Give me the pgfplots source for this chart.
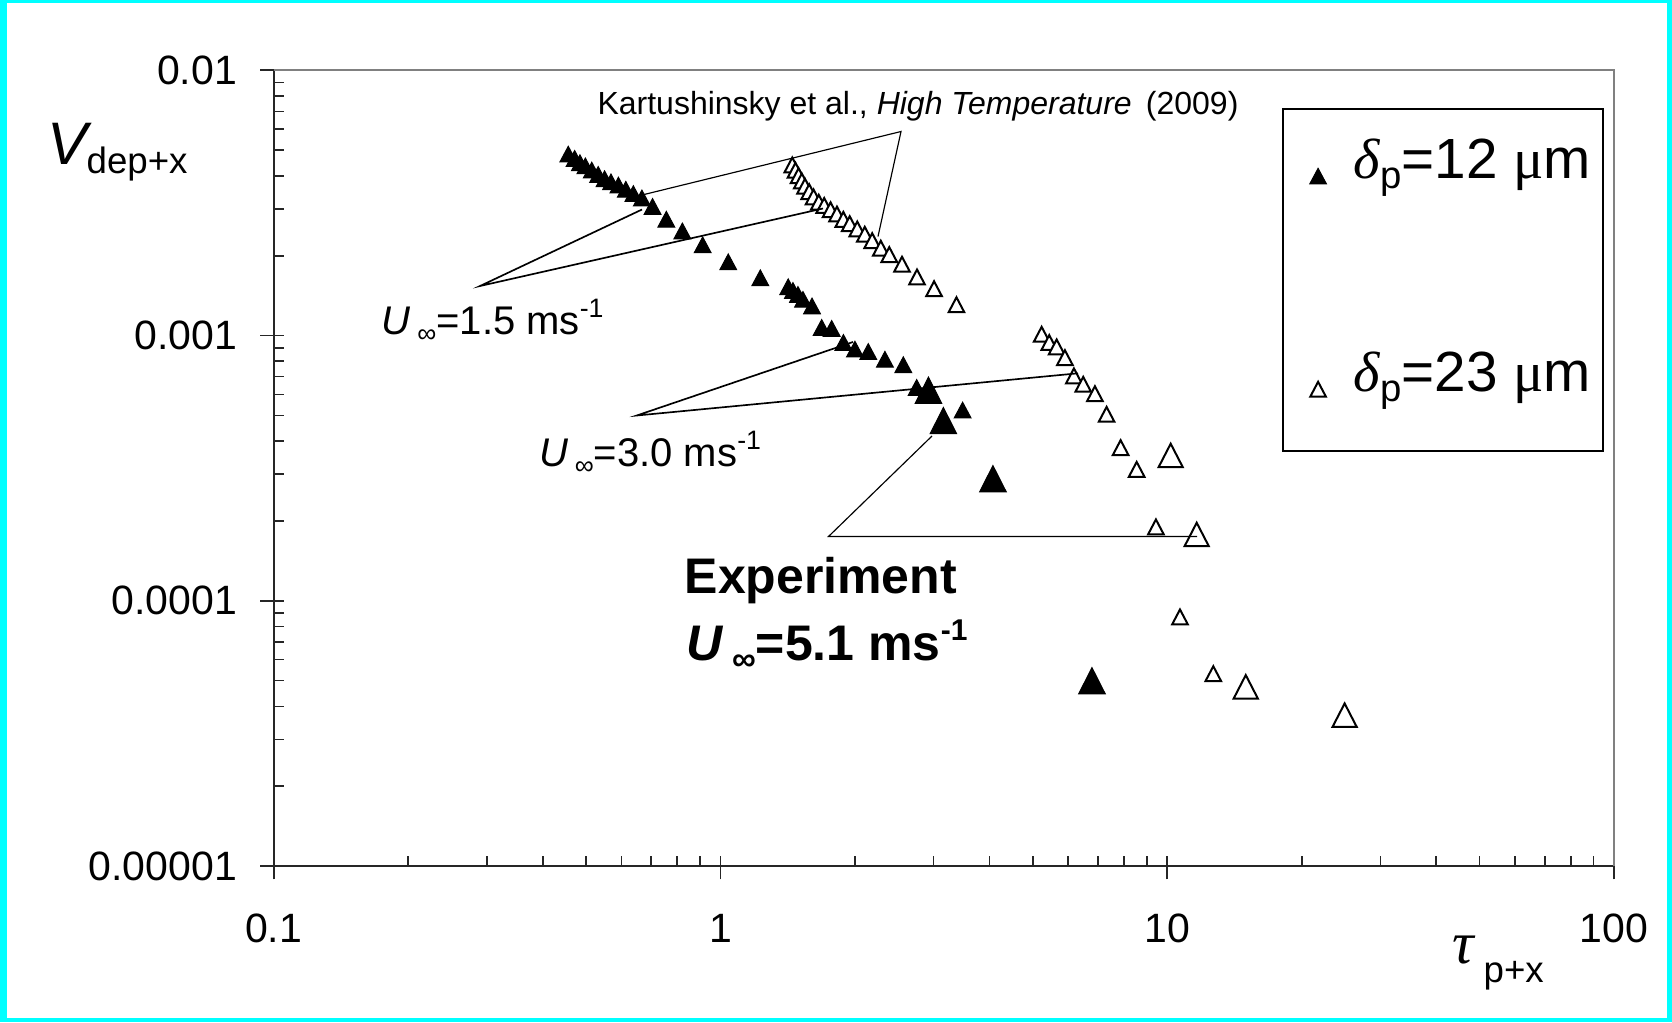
\documentclass[border=0pt]{standalone}
\usepackage{pgfplots}
\pgfplotsset{compat=1.18}
\usepackage{fontspec}
\setmainfont{Liberation Sans}
\newfontfamily\serifgr{Liberation Serif}
\newcommand{\fs}[1]{\fontsize{#1}{#1}\selectfont}
\definecolor{pageframe}{RGB}{0,255,255}

% deposition velocity vs. relaxation time, model curves
\pgfplotstableread{
x y
0.4564 0.004722
0.4717 0.00455
0.4847 0.004384
0.4984 0.004264
0.5152 0.004111
0.5325 0.003960
0.5504 0.003815
0.5688 0.003711
0.5910 0.003609
0.6140 0.003480
0.6383 0.003352
0.6671 0.003228
0.7047 0.002999
0.7567 0.002684
0.8218 0.002424
0.9124 0.002149
1.041 0.001854
1.228 0.001614
1.418 0.001493
1.453 0.001446
1.491 0.001397
1.530 0.001338
1.603 0.001264
1.685 0.001049
1.774 0.001040
1.885 0.000921
2.000 0.000869
2.142 0.000851
2.334 0.000796
2.566 0.000759
2.749 0.000623
3.484 0.000512
}\modelsmall

\pgfplotstableread{
x y
1.448 0.004304
1.472 0.004111
1.496 0.003923
1.521 0.003747
1.546 0.003578
1.580 0.003414
1.616 0.003261
1.660 0.003114
1.707 0.003028
1.764 0.002917
1.823 0.002810
1.884 0.002684
1.947 0.002585
2.024 0.002469
2.104 0.002358
2.186 0.002231
2.285 0.002089
2.387 0.001977
2.549 0.001819
2.754 0.001628
3.007 0.001470
3.375 0.001279
5.235 0.0009897
5.444 0.000921
5.656 0.000887
5.902 0.000808
6.183 0.000690
6.486 0.000641
6.889 0.000591
7.317 0.000494
7.866 0.000370
8.543 0.0003064
9.434 0.0001859
10.68 0.0000851
12.68 0.0000520
}\modellarge

% experiment, U = 5.1 m/s
\pgfplotstableread{
x y
2.921 0.000599
3.155 0.000460
4.073 0.0002779
6.785 0.0000481
}\expsmall

\pgfplotstableread{
x y
10.18 0.0003413
11.64 0.0001719
14.99 0.0000458
24.95 0.0000358
}\explarge

\begin{document}
\begin{tikzpicture}
% page frame, one unit = 0.3pt, y downwards
\begin{scope}[x=0.3pt,y=-0.3pt]
\fill[pageframe] (0,0) rectangle (1672,1022);
\fill[white] (7,3) rectangle (1667,1018);
\end{scope}

\begin{axis}[
  at={(82.11pt,-259.8pt)}, anchor=south west,
  scale only axis, width=402.09pt, height=238.71pt,
  xmode=log, ymode=log,
  xmin=0.1, xmax=100, ymin=1e-5, ymax=1e-2,
  axis x line*=bottom, axis y line*=left,
  axis line style={-, black!85, line width=0.5pt},
  tick align=inside,
  major tick length=3pt, minor tick length=3pt,
  every tick/.style={black!85, line width=0.5pt},
  xtick={0.1,1,10,100}, xticklabels={0.1,1,10,100},
  ytick={1e-5,1e-4,1e-3,1e-2}, yticklabels={0.00001,0.0001,0.001,0.01},
  minor xtick={0.2,0.3,0.4,0.5,0.6,0.7,0.8,0.9,2,3,4,5,6,7,8,9,20,30,40,50,60,70,80,90},
  minor ytick={2e-5,3e-5,4e-5,5e-5,6e-5,7e-5,8e-5,9e-5,2e-4,3e-4,4e-4,5e-4,6e-4,7e-4,8e-4,9e-4,2e-3,3e-3,4e-3,5e-3,6e-3,7e-3,8e-3,9e-3},
  extra x ticks={0.1,1,10,100}, extra x tick labels={},
  extra y ticks={1e-5,1e-4,1e-3,1e-2}, extra y tick labels={},
  extra tick style={tick align=outside, major tick length=4pt},
  /pgf/number format/assume math mode=true,
  tick label style={font=\fs{12.3}},
  yticklabel style={xshift=-7.5pt},
  xticklabel style={yshift=-10.8pt},
  legend cell align=left,
  legend image code/.code={%
    \path (0cm,0cm) (0.6cm,0cm);
    \draw[#1] plot coordinates {(0.3cm,0cm)};},
  legend style={at={(rel axis cs:0.757,0.9227)}, anchor=north west,
    draw=none, fill=none, inner sep=0pt, row sep=46.5pt,
    font=\fs{17}, cells={anchor=base west}},
  clip=false,
]
\addplot[only marks, mark=triangle*, mark size=2.9pt,
  mark options={yscale=1.08, fill=black, draw=black, line width=0.3pt}] table {\modelsmall};
\addlegendentry{{\serifgr\itshape δ}\raisebox{-3pt}{\fs{11.5}p}=12 {\serifgr μ}m}
\addplot[only marks, mark=triangle*, mark size=2.7pt,
  mark options={yscale=1.1, fill=white, draw=black, line width=0.6pt}] table {\modellarge};
\addlegendentry{{\serifgr\itshape δ}\raisebox{-3pt}{\fs{11.5}p}=23 {\serifgr μ}m}
\addplot[only marks, forget plot, mark=triangle*, mark size=4.6pt,
  mark options={yscale=1.14, fill=black, draw=black, line width=0.3pt}] table {\expsmall};
\addplot[only marks, forget plot, mark=triangle*, mark size=4.2pt,
  mark options={yscale=1.12, fill=white, draw=black, line width=0.6pt}] table {\explarge};
% outer frame of the plot area
\draw[gray, line width=0.5pt] (rel axis cs:0,1) -- (rel axis cs:1,1) -- (rel axis cs:1,0);
\end{axis}

\begin{scope}[x=0.3pt,y=-0.3pt]
% legend box
\draw[black, line width=0.5pt] (1282.7,109.3) rectangle (1603.3,450.7);
% axis titles
\node[anchor=base west, inner sep=0] at (47,164) {\fs{18}\textit{V}};
\node[anchor=base west, inner sep=0] at (86,173) {\fs{11}dep+x};
\node[anchor=base west, inner sep=0] at (1452,963) {\fs{18}\serifgr\itshape τ};
\node[anchor=base west, inner sep=0] at (1483,982) {\fs{11}p+x};
% reference to the model
\node[anchor=base, inner sep=0] at (918,114)
  {\fs{9.6}Kartushinsky et al., \textit{High Temperature}\ \,(2009)};
\draw[line width=0.35pt] (642,195) -- (901,131.5) -- (878,236.5);
% free stream velocity labels
\node[anchor=base west, inner sep=0] at (381,334)
  {\fs{12}\textit{U}\,\raisebox{-2.5pt}{\fs{8}∞}=1.5 ms\raisebox{5pt}{\fs{8}-1}};
\draw[line width=0.5pt] (642,209.5) -- (480,286) -- (823,208.5);
\node[anchor=base west, inner sep=0] at (538.5,466)
  {\fs{12}\textit{U}\,\raisebox{-2.5pt}{\fs{8}∞}=3.0 ms\raisebox{5pt}{\fs{8}-1}};
\draw[line width=0.5pt] (853,342) -- (636.7,415.5) -- (1078,373.3);
\node[anchor=base west, inner sep=0] at (684,593) {\fs{15}\bfseries Experiment};
\node[anchor=base west, inner sep=0] at (686,660)
  {\fs{15}\bfseries\textit{U}\,\raisebox{-3pt}{\fs{10}∞}=5.1 ms\raisebox{6pt}{\fs{9}-1}};
\draw[line width=0.35pt] (932,436) -- (828.5,536.5) -- (1197,536.5);
\end{scope}

\pgfresetboundingbox
\begin{scope}[x=0.3pt,y=-0.3pt]
\path (0,0) rectangle (1672,1022);
\end{scope}
\end{tikzpicture}
\end{document}
